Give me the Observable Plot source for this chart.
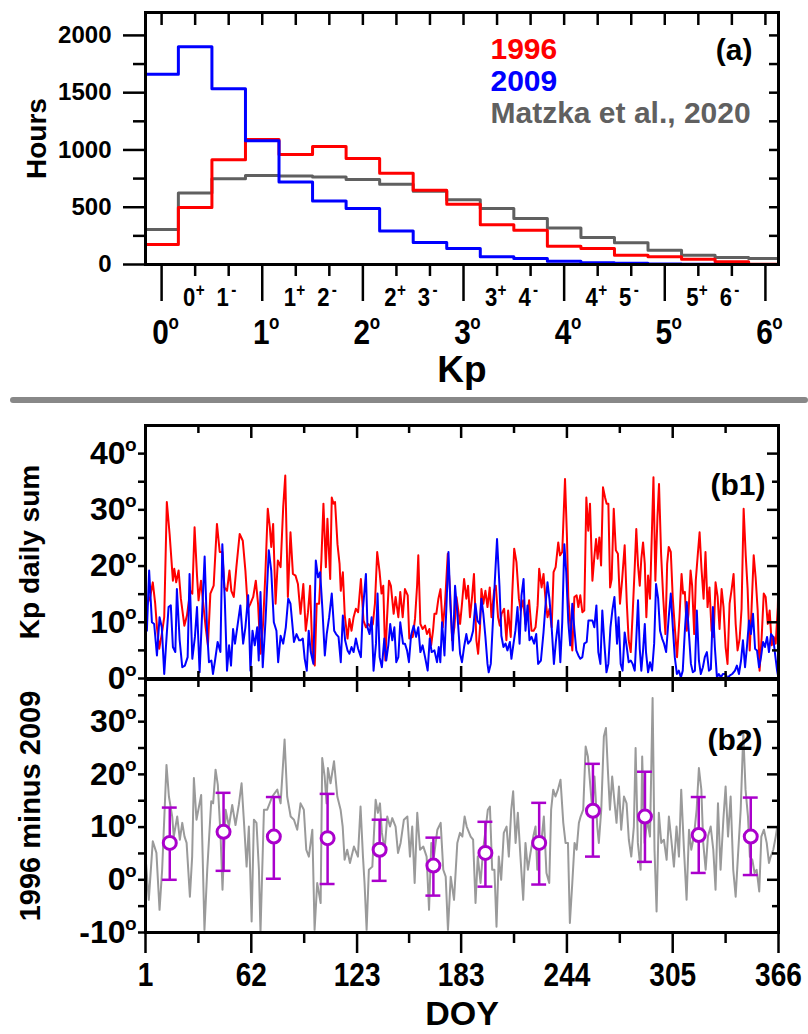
<!DOCTYPE html>
<html><head><meta charset="utf-8">
<script src="https://cdn.jsdelivr.net/npm/d3@7"></script>
<script src="https://cdn.jsdelivr.net/npm/@observablehq/plot@0.6"></script>
<style>
body{margin:0;background:#fff;}
#wrap{position:relative;width:808px;height:1034px;overflow:hidden;background:#fff;}
#wrap > svg{position:absolute;left:0;background:transparent;overflow:visible;}
#sep{position:absolute;left:10px;top:397px;width:798px;height:6px;background:#888;border-radius:3px;}
</style></head><body><div id="wrap"><div id="sep"></div></div>
<script>
// ---------- Panel (a) data ----------
const kpBinLabels = ["0o","0+","1-","1o","1+","2-","2o","2+","3-","3o","3+","4-","4o","4+","5-","5o","5+","6-","6o"];
const hours1996 = [174,497,915,1092,961,1031,926,796,648,526,348,299,160,139,81,67,46,23,3];
const hours2009 = [1660,1900,1535,1080,720,555,488,293,192,139,67,52,29,15,10,5,2,1,0];
const hoursMatzka = [305,624,749,778,772,764,743,700,640,566,488,401,319,235,189,125,81,61,52];
const legendNames = ["1996","2009","Matzka et al., 2020"];
const hoursMajorTicks = [0,500,1000,1500,2000];
const hoursMinorTicks = [250,750,1250,1750];

// ---------- Panel (b1) data ----------
const doy1996 = [1.0,2.2,3.7,5.2,6.6,7.6,8.9,10.4,11.8,13.3,14.9,16.8,17.6,18.7,20.1,21.4,23.4,24.9,26.8,28.0,29.3,30.7,31.6,33.0,34.1,35.7,37.0,38.4,40.3,42.2,43.8,45.3,46.5,48.0,49.4,50.5,51.9,53.4,55.3,57.1,58.6,60.0,61.5,63.1,64.6,65.9,67.3,68.8,70.2,71.5,72.7,73.5,74.6,76.0,77.3,78.9,80.4,81.6,83.1,84.6,86.0,87.5,88.9,90.4,92.0,93.4,94.7,95.9,97.2,98.6,99.7,101.1,102.4,103.6,105.0,105.9,107.5,108.4,109.4,110.3,111.7,112.9,113.6,114.8,115.9,117.5,118.6,119.8,121.0,122.3,123.6,125.2,126.7,128.1,129.4,131.0,132.1,133.3,134.6,136.0,137.1,138.1,139.3,140.2,141.4,142.5,144.1,145.2,146.8,147.9,149.3,150.6,152.2,153.1,155.1,156.4,157.6,158.3,159.5,160.8,162.2,163.3,164.7,165.7,166.8,167.6,168.7,169.9,171.1,172.4,173.7,175.3,176.6,177.8,179.1,180.3,182.4,183.5,184.7,186.0,187.0,188.1,189.3,190.4,191.8,192.8,193.9,194.7,195.8,197.0,198.2,199.5,200.5,202.0,203.0,204.3,205.3,206.3,207.8,209.1,210.1,211.6,212.4,213.6,214.9,216.3,217.4,218.8,220.1,221.3,222.2,223.6,224.8,225.9,227.1,228.0,229.4,230.5,231.7,232.8,234.0,235.2,236.3,237.5,239.0,240.0,241.3,242.9,244.0,244.8,245.8,247.1,248.3,249.6,250.6,251.7,252.9,254.0,255.2,256.3,257.3,258.7,259.8,260.8,261.7,262.7,263.7,264.8,266.0,266.9,267.9,268.9,269.8,271.0,272.2,273.4,274.6,275.8,277.3,278.5,279.6,280.8,281.9,283.1,284.0,285.0,286.0,286.9,287.9,288.9,289.8,290.8,291.9,292.7,293.9,295.0,296.2,297.1,298.3,299.5,300.8,301.8,302.7,303.9,305.0,306.2,307.5,308.9,310.1,311.0,312.0,313.1,314.1,315.3,316.2,317.4,318.3,319.5,320.5,321.6,322.8,323.9,325.1,326.2,327.4,328.6,329.7,330.9,332.0,333.2,334.3,335.5,336.6,337.8,339.0,340.1,341.3,342.4,343.6,344.7,345.9,347.1,348.2,349.4,350.5,351.7,352.8,354.0,355.1,356.3,357.5,358.6,359.8,360.9,362.1,363.2,364.4,365.6,366.0];
const kp1996 = [12.1,13.3,14.5,17.1,13.3,9.1,5.3,7.9,10.9,31.4,25.7,17.4,19.5,17.1,19.2,14.2,9.4,11.2,15.6,15.1,26.9,18.3,13.9,17.4,13.9,9.1,5.9,15.1,16.5,27.5,22.5,22.5,16.2,15.6,19.2,15.6,14.5,19.8,25.7,24.5,19.2,12.4,13.3,14.5,17.4,13.3,4.4,9.7,19.2,30.2,26.9,23.4,27.5,13.3,21.0,19.8,30.5,36.1,14.5,26.0,18.6,18.3,16.8,11.5,16.8,8.5,11.8,16.5,5.0,2.3,13.3,13.3,21.0,31.1,19.8,28.4,17.7,32.2,31.1,31.4,23.9,20.4,15.6,18.9,11.2,7.1,10.6,8.5,10.9,12.4,11.8,17.7,10.3,9.1,9.7,9.1,9.7,13.3,22.5,18.9,15.1,16.5,3.2,10.3,17.4,16.5,11.5,14.5,10.9,15.4,10.9,15.9,14.8,7.1,7.4,10.6,16.5,21.9,9.7,8.8,9.4,7.9,8.8,5.9,8.5,11.5,11.5,14.2,15.9,9.1,13.3,22.2,15.6,6.8,9.1,14.5,9.7,13.3,17.7,14.2,16.5,10.9,14.5,18.6,6.8,4.4,9.1,15.9,13.3,15.6,12.7,16.2,10.9,15.6,16.5,10.9,9.4,11.5,12.4,6.8,12.1,7.4,14.5,23.1,20.7,14.2,12.1,13.9,9.7,11.5,13.9,8.5,8.5,9.1,13.0,19.5,16.2,18.6,13.9,10.9,12.4,9.1,18.9,19.8,24.2,21.9,22.5,35.5,25.4,14.5,10.3,5.0,14.5,14.8,12.7,14.8,11.8,12.1,32.2,26.3,31.1,17.4,21.6,24.8,21.3,25.1,20.1,34.0,32.2,31.1,31.1,16.2,17.7,30.2,22.8,22.2,13.3,17.4,23.7,13.6,6.8,4.7,11.5,19.8,26.6,20.1,16.5,21.3,24.2,20.4,10.9,18.3,14.2,22.8,35.8,17.4,28.7,34.6,22.2,14.5,7.9,20.4,23.4,22.5,14.5,9.1,3.8,10.9,18.6,15.1,15.4,8.5,11.5,19.2,16.5,7.9,17.4,22.2,26.0,19.5,14.2,22.5,12.7,16.2,8.5,7.4,17.1,14.5,8.8,15.9,12.7,5.6,2.6,13.3,15.9,18.6,9.7,5.0,7.1,12.4,30.2,21.9,15.9,5.0,12.7,21.9,18.0,12.1,1.4,7.4,15.1,14.5,9.7,12.1,5.9,7.4,6.2,12.7,18.0];
const doy2009 = [1.8,3.1,4.7,6.0,7.6,9.1,10.4,11.8,12.9,14.3,15.6,16.8,18.2,19.1,20.7,22.2,23.7,25.3,26.4,28.0,29.5,30.7,32.2,33.8,35.1,36.5,37.6,39.0,39.9,41.1,42.6,44.2,45.3,46.7,48.0,49.2,50.3,51.5,52.6,54.2,55.7,57.3,58.6,60.2,61.5,62.7,64.0,65.4,66.3,67.3,68.6,70.2,72.1,73.5,75.0,76.5,77.5,78.9,80.4,81.9,83.3,84.6,86.6,88.1,89.6,90.5,91.7,92.8,94.0,95.1,96.3,97.8,99.2,100.5,101.7,103.0,104.4,105.5,106.9,108.4,109.8,110.9,112.3,113.6,114.8,116.1,117.5,118.6,119.8,121.0,122.3,123.6,125.2,126.3,128.1,129.0,130.2,131.4,132.5,133.9,134.8,136.0,137.3,138.7,139.8,141.0,142.1,143.3,144.5,145.6,146.8,147.9,149.5,150.6,151.8,152.9,154.1,155.6,157.0,158.3,159.5,160.8,162.2,163.7,164.9,166.0,167.6,169.1,170.1,171.0,172.0,173.4,174.5,175.7,176.8,178.2,179.5,180.7,182.4,183.5,184.7,186.0,187.0,188.5,189.9,191.2,192.4,193.7,194.7,195.8,197.0,198.2,198.9,200.1,201.4,202.4,203.7,205.1,206.2,207.4,208.6,209.7,211.1,212.0,213.2,214.3,215.5,216.7,217.8,219.0,220.1,221.3,222.4,223.6,225.1,226.3,227.4,229.0,230.5,231.7,232.8,234.0,235.2,236.5,237.7,239.0,240.2,241.3,242.5,243.6,244.8,245.9,247.1,248.3,249.4,250.6,251.7,252.9,254.0,255.4,256.4,257.5,258.7,259.8,261.0,262.1,263.3,264.4,265.6,266.8,267.9,269.1,270.2,271.4,272.9,273.8,275.0,276.1,277.3,278.5,279.6,280.8,281.9,283.1,284.0,285.0,286.0,286.9,287.9,288.9,289.6,290.8,291.9,293.1,294.3,295.4,296.6,297.7,298.9,300.0,301.2,302.7,303.9,305.0,306.2,307.4,308.5,309.7,310.8,312.0,313.1,314.3,315.5,316.6,317.8,318.9,320.1,321.2,322.4,323.5,324.7,325.9,327.0,328.2,329.3,330.5,331.6,332.8,333.9,335.5,336.6,337.8,339.3,340.9,342.0,343.2,344.4,345.5,346.7,347.8,349.0,350.1,351.3,352.5,353.6,354.8,355.9,357.1,358.2,359.4,360.5,361.7,362.9,364.0,365.2,366.0];
const kp2009 = [8.5,19.2,10.0,9.7,4.1,10.9,9.1,0.8,6.2,12.7,13.0,5.6,4.7,15.9,6.8,2.0,2.3,3.8,18.6,3.5,7.4,12.7,1.1,12.7,21.7,8.5,2.9,3.2,0.8,3.2,6.5,4.7,23.9,14.2,1.4,5.9,2.3,8.8,6.2,9.7,13.0,6.2,9.1,14.8,1.4,8.5,5.9,9.1,3.2,15.4,2.0,10.3,22.8,19.2,10.0,8.5,2.9,7.6,6.2,9.1,14.2,13.3,6.5,7.9,6.8,6.8,7.1,3.5,1.4,8.5,4.7,2.6,21.0,18.0,18.9,12.4,4.1,7.9,10.9,15.1,8.5,7.9,7.4,2.9,11.2,6.8,5.0,4.4,5.6,4.7,7.1,5.3,3.8,12.1,18.6,9.1,7.9,10.9,1.4,6.2,15.1,3.8,2.0,7.1,3.2,5.9,9.7,6.8,9.1,2.9,3.8,10.0,6.2,6.2,5.0,2.9,7.6,9.4,7.4,9.1,4.7,5.9,3.8,1.4,7.1,4.7,5.0,2.9,5.6,2.9,10.0,4.1,12.7,22.5,13.3,5.0,16.5,12.1,4.4,2.9,5.6,7.9,6.2,6.8,8.5,13.3,10.3,9.7,14.2,11.5,7.4,2.6,1.1,2.6,10.6,17.1,24.8,16.5,7.6,5.6,6.2,5.0,6.5,3.5,6.2,8.5,12.7,6.2,14.8,17.7,8.5,13.0,6.8,7.4,6.2,7.9,2.6,3.2,8.2,13.3,17.1,13.9,9.1,2.6,6.8,10.3,2.9,10.0,23.9,18.9,10.0,5.9,13.3,8.8,5.0,4.1,3.5,3.8,6.2,6.5,10.3,10.3,10.3,9.1,13.0,4.7,2.6,12.1,6.2,1.1,2.6,9.1,12.1,14.5,6.2,10.9,2.6,1.4,8.2,5.6,2.9,3.2,2.6,1.4,7.1,13.9,5.3,1.4,5.0,9.7,4.7,1.1,2.9,1.4,6.2,16.8,14.2,8.5,7.1,6.2,4.7,10.9,15.1,9.4,3.8,0.8,1.4,0.2,1.4,8.5,13.6,8.2,2.6,1.1,1.4,12.1,3.2,0.8,2.0,3.8,4.7,1.4,1.7,12.7,5.6,0.2,0.8,0.2,0.8,0.8,0,0.5,0.8,1.4,2.3,0.8,3.2,6.8,2.0,5.6,10.3,7.9,11.5,5.3,5.0,2.0,3.8,6.5,5.6,7.4,4.7,7.9,7.4,4.4,1.4,0];

// ---------- Panel (b2) data ----------
const doyDiff = [1.0,2.9,5.2,7.3,9.1,10.6,13.1,14.5,16.4,17.3,19.3,20.8,22.2,23.5,24.7,26.6,27.9,28.9,30.4,33.1,35.0,36.6,38.9,40.0,41.4,42.7,44.3,45.4,47.2,49.1,51.0,52.9,54.8,56.4,57.7,59.3,60.6,62.2,63.5,65.0,66.4,67.3,69.3,71.2,74.1,77.0,78.9,81.2,82.7,84.7,86.6,88.5,90.4,92.3,93.7,95.2,97.2,98.5,100.0,102.0,102.9,104.3,105.4,106.2,107.7,109.7,111.6,113.5,114.7,115.8,117.3,118.9,121.2,123.5,125.0,126.4,127.3,128.5,129.8,131.8,133.7,135.0,136.2,137.3,138.9,140.4,142.0,143.3,145.2,146.6,148.1,150.0,152.0,153.5,154.8,156.2,157.7,159.3,161.2,163.1,164.5,165.8,167.3,169.3,171.2,172.7,174.1,175.4,177.0,178.9,180.8,182.3,183.7,185.0,186.2,188.5,189.9,191.3,192.6,194.2,195.7,197.1,198.4,199.6,200.9,202.2,203.4,204.7,206.1,207.6,209.2,210.5,211.9,213.0,214.4,215.7,217.2,218.8,220.1,221.5,223.0,224.6,225.9,226.9,227.8,229.2,230.7,232.2,233.8,234.9,236.1,237.4,238.8,240.3,241.9,243.2,244.6,245.7,247.1,248.4,249.6,250.9,251.9,253.4,254.8,256.1,257.2,258.6,259.9,261.5,262.4,263.8,265.3,266.5,267.6,268.8,270.1,271.5,272.6,274.0,275.3,276.9,278.4,279.7,281.1,282.6,283.6,284.9,286.5,287.4,288.8,290.3,291.9,293.4,294.5,295.7,297.0,298.4,299.9,301.5,302.8,304.2,305.7,307.2,308.6,309.9,311.5,313.0,314.4,315.7,317.2,318.8,320.1,321.5,322.6,324.0,325.3,326.9,328.4,329.7,331.1,332.6,334.2,335.5,336.9,338.4,339.9,341.3,342.6,344.2,345.7,347.0,348.4,349.5,350.9,352.2,353.4,354.9,356.1,357.6,359.2,360.5,361.5,363.0,364.4,365.3];
const kpDiff = [4.4,-3.8,7.3,5.1,-5.7,1.9,21.8,15.8,12.0,8.2,12.0,7.6,10.8,8.2,7.0,-3.2,4.4,19.3,11.4,16.1,-9.5,1.9,14.9,14.5,20.9,18.0,8.2,-1.9,13.3,10.1,14.2,10.4,14.2,18.3,11.4,2.5,10.1,-7.9,11.4,10.8,1.9,-10,13.3,13.3,15.8,17.1,14.5,26.6,15.8,12.0,11.4,9.5,14.5,13.3,5.7,4.4,9.5,-9.5,-0.6,-4.4,23.1,19.6,14.5,21.2,18.3,22.5,15.8,13.3,10.1,3.8,5.7,3.2,6.3,4.4,13.9,4.4,-0.6,-9.5,1.9,2.5,15.2,12.7,14.5,8.9,5.7,12.0,10.1,11.7,10.1,5.1,7.0,11.4,12.0,4.4,10.1,-0.6,12.7,5.7,6.3,4.4,-5.7,7.0,4.4,9.5,10.8,1.9,0.6,-9.5,0.6,-3.8,7.0,8.9,8.2,12.0,10.1,8.2,7.6,-4.4,4.4,-0.6,5.7,9.5,13.3,13.9,1.9,1.9,-8.9,4.4,0,8.9,10.1,4.4,13.3,16.8,7.0,12.7,4.4,-3.8,7.0,1.9,5.1,8.2,10.1,1.9,5.7,7.0,12.0,1.3,-0.6,13.3,17.1,15.8,17.1,19.0,10.8,7.0,7.0,-8.2,-0.6,7.0,5.7,10.8,12.0,13.3,25.3,23.4,19.0,13.3,19.6,10.1,7.0,13.3,27.2,28.8,20.9,13.3,19.6,14.5,10.8,17.7,9.5,15.8,14.5,7.6,4.4,10.1,25.0,7.0,1.9,23.4,7.0,11.4,8.2,34.5,5.7,-6.0,12.7,7.0,7.6,3.8,12.0,7.6,2.5,10.1,4.4,17.1,5.7,-3.8,9.5,5.7,8.2,13.3,21.2,17.1,7.0,1.9,8.2,10.1,5.7,-1.9,14.5,1.9,11.4,17.7,8.2,15.8,1.9,-3.2,4.4,13.3,27.8,17.1,12.0,4.4,3.8,1.3,1.9,-2.2,8.2,9.5,7.0,3.2,4.4,5.7,8.2,10.1];
const monthDoy  = [15,46,75,106,136,167,197,228,259,289,320,350];
const monthMean = [7.0,9.1,8.2,7.9,5.7,2.7,5.1,7.0,13.1,12.0,8.5,8.2];
const monthLow  = [0.0,1.7,0.2,-0.8,-0.2,-3.0,-1.3,-0.9,4.4,3.4,1.3,0.9];
const monthHigh = [13.7,16.5,15.7,16.3,11.4,8.0,11.0,14.6,22.0,20.5,15.7,15.6];

const doyMajorTicks = [1,62,123,183,244,305,366];
const doyMinorTicks = [31.5,92.5,153,213.5,274.5,335.5];
const b1Major = [0,10,20,30,40], b1Minor = [5,15,25,35];
const b2Major = [-10,0,10,20,30], b2Minor = [-5,5,15,25,35];

// ---------- styles ----------
const SANS = "'Liberation Sans', Arial, sans-serif";
const COND = "Liberation Sans, Arial";   // condensed tick labels (scaled horizontally after render)
const RED = "#ff0000", BLUE = "#0000ff", DGRAY = "#606060", LGRAY = "#9a9a9a", PURPLE = "#aa00cc";
const AX = 2.5;
const wrap = document.getElementById("wrap");

function condense(svg, k){
  svg.querySelectorAll('g[font-family="' + COND + '"] text').forEach(t=>{
    const tr = t.getAttribute("transform") || "";
    t.setAttribute("transform", tr + " scale(" + k + ",1)");
  });
}
function stepPoints(vals){
  const pts = vals.map((v,i)=>({k:i/3-1/6, h:v}));
  pts.push({k:(vals.length-1)/3+1/6, h:vals[vals.length-1]});
  return pts;
}
const noText = ()=>"";
const binIdx = d3.range(kpBinLabels.length);
const minorIdx = binIdx.filter(i=>i%3!==0);
const majorIdx = binIdx.filter(i=>i%3===0);
const B = {fontWeight:"bold", fill:"black"};

// ---------- Panel (a) ----------
const plotA = Plot.plot({
  width:808, height:395,
  marginLeft:145, marginRight:30, marginTop:12, marginBottom:131,
  x:{domain:[-0.16,6.13], axis:null},
  y:{domain:[0,2200], axis:null},
  style:{fontFamily:SANS, background:"transparent", overflow:"visible"},
  marks:[
    Plot.line(stepPoints(hoursMatzka),{x:"k",y:"h",curve:"step-after",stroke:DGRAY,strokeWidth:3,clip:true}),
    Plot.line(stepPoints(hours1996),{x:"k",y:"h",curve:"step-after",stroke:RED,strokeWidth:3,clip:true}),
    Plot.line(stepPoints(hours2009),{x:"k",y:"h",curve:"step-after",stroke:BLUE,strokeWidth:3,clip:true}),
    Plot.frame({stroke:"black",strokeWidth:3}),
    Plot.axisY({anchor:"left",ticks:hoursMajorTicks,tickSize:22,tickPadding:12,fontSize:24,fontWeight:"bold",label:null,strokeWidth:AX,tickFormat:d=>String(d)}),
    Plot.axisY({anchor:"left",ticks:hoursMinorTicks,tickSize:12,tickFormat:noText,label:null,strokeWidth:AX}),
    Plot.axisY({anchor:"right",ticks:hoursMajorTicks.concat(hoursMinorTicks),tickSize:-10,tickFormat:noText,label:null,strokeWidth:AX}),
    Plot.axisX({anchor:"top",ticks:binIdx.map(i=>i/3),tickSize:-12,tickFormat:noText,label:null,strokeWidth:AX}),
    Plot.axisX({anchor:"bottom",ticks:majorIdx.map(i=>i/3),tickSize:37,tickFormat:noText,label:null,strokeWidth:AX}),
    Plot.axisX({anchor:"bottom",ticks:minorIdx.map(i=>i/3),tickSize:12,tickFormat:noText,label:null,strokeWidth:AX}),
    // minor bin labels (digit + superscript sign)
    Plot.text(minorIdx,{x:i=>i/3,text:i=>kpBinLabels[i][0],frameAnchor:"bottom",lineAnchor:"middle",dx:-6,dy:33,fontSize:26,fontFamily:COND,...B}),
    Plot.text(minorIdx,{x:i=>i/3,text:i=>kpBinLabels[i][1],frameAnchor:"bottom",lineAnchor:"middle",dx:5,dy:26,fontSize:18,fontFamily:COND,...B}),
    // major labels (digit + superscript o)
    Plot.text(majorIdx,{x:i=>i/3,text:i=>kpBinLabels[i][0],frameAnchor:"bottom",lineAnchor:"middle",dx:-1,dy:68,fontSize:35,fontFamily:COND,...B}),
    Plot.text(majorIdx,{x:i=>i/3,text:i=>kpBinLabels[i][1],frameAnchor:"bottom",lineAnchor:"middle",dx:12,dy:58,fontSize:20,fontFamily:COND,...B}),
    Plot.text(["Kp"],{frameAnchor:"bottom",lineAnchor:"middle",dy:106,fontSize:37,...B}),
    Plot.text(["Hours"],{frameAnchor:"left",textAnchor:"middle",lineAnchor:"middle",dx:-108,rotate:-90,fontSize:28,...B}),
    // legend
    Plot.text([legendNames[0]],{frameAnchor:"top-left",lineAnchor:"middle",dx:345,dy:37,textAnchor:"start",fontSize:30,fontWeight:"bold",fill:RED}),
    Plot.text([legendNames[1]],{frameAnchor:"top-left",lineAnchor:"middle",dx:345,dy:69,textAnchor:"start",fontSize:30,fontWeight:"bold",fill:BLUE}),
    Plot.text([legendNames[2]],{frameAnchor:"top-left",lineAnchor:"middle",dx:345,dy:101,textAnchor:"start",fontSize:30,fontWeight:"bold",fill:DGRAY}),
    Plot.text(["(a)"],{frameAnchor:"top-right",lineAnchor:"middle",dx:-26,dy:38,textAnchor:"end",fontSize:30,...B})
  ]
});
plotA.style.top = "0px";
condense(plotA, 0.85);
wrap.appendChild(plotA);

function yLabels(ticks){
  return [
    Plot.text(ticks,{y:d=>d,frameAnchor:"left",lineAnchor:"middle",text:d=>String(d),textAnchor:"end",dx:-20,fontSize:32,...B}),
    Plot.text(ticks,{y:d=>d,frameAnchor:"left",lineAnchor:"middle",text:()=>"o",textAnchor:"end",dx:-9,dy:-9,fontSize:19,...B})
  ];
}

// ---------- Panel (b1) ----------
const s1996 = d3.range(Math.min(doy1996.length,kp1996.length)).map(i=>({d:doy1996[i],v:kp1996[i]}));
const s2009 = d3.range(Math.min(doy2009.length,kp2009.length)).map(i=>({d:doy2009[i],v:kp2009[i]}));
const plotB1 = Plot.plot({
  width:808, height:265,
  marginLeft:145, marginRight:30, marginTop:10, marginBottom:2,
  x:{domain:[1,366],axis:null},
  y:{domain:[0,45],axis:null},
  style:{fontFamily:SANS, background:"transparent", overflow:"visible"},
  marks:[
    Plot.line(s1996,{x:"d",y:"v",stroke:RED,strokeWidth:2,clip:true}),
    Plot.line(s2009,{x:"d",y:"v",stroke:BLUE,strokeWidth:2,clip:true}),
    Plot.frame({stroke:"black",strokeWidth:3}),
    Plot.axisY({anchor:"left",ticks:b1Major.concat(b1Minor),tickSize:7,tickFormat:noText,label:null,strokeWidth:AX}),
    Plot.axisY({anchor:"right",ticks:b1Major,tickSize:-12,tickFormat:noText,label:null,strokeWidth:AX}),
    Plot.axisY({anchor:"right",ticks:b1Minor,tickSize:-7,tickFormat:noText,label:null,strokeWidth:AX}),
    Plot.axisX({anchor:"top",ticks:doyMajorTicks,tickSize:-12,tickFormat:noText,label:null,strokeWidth:AX}),
    Plot.axisX({anchor:"top",ticks:doyMinorTicks,tickSize:-7,tickFormat:noText,label:null,strokeWidth:AX}),
    Plot.axisX({anchor:"bottom",ticks:doyMajorTicks,tickSize:-12,tickFormat:noText,label:null,strokeWidth:AX}),
    Plot.axisX({anchor:"bottom",ticks:doyMinorTicks,tickSize:-7,tickFormat:noText,label:null,strokeWidth:AX}),
    ...yLabels(b1Major),
    Plot.text(["Kp daily sum"],{frameAnchor:"left",textAnchor:"middle",lineAnchor:"middle",dx:-115,rotate:-90,fontSize:28,...B}),
    Plot.text(["(b1)"],{frameAnchor:"top-right",lineAnchor:"middle",dx:-13,dy:60,textAnchor:"end",fontSize:30,...B})
  ]
});
plotB1.style.top = "415px";
wrap.appendChild(plotB1);

// ---------- Panel (b2) ----------
const sDiff = d3.range(Math.min(doyDiff.length,kpDiff.length)).map(i=>({d:doyDiff[i],v:kpDiff[i]}));
const mIdx = d3.range(monthDoy.length);
const plotB2 = Plot.plot({
  width:808, height:357,
  marginLeft:145, marginRight:30, marginTop:2, marginBottom:102,
  x:{domain:[1,366],axis:null},
  y:{domain:[-10,38],axis:null},
  style:{fontFamily:SANS, background:"transparent", overflow:"visible"},
  marks:[
    Plot.line(sDiff,{x:"d",y:"v",stroke:LGRAY,strokeWidth:2,clip:true}),
    Plot.ruleX(mIdx,{x:i=>monthDoy[i],y1:i=>monthLow[i],y2:i=>monthHigh[i],stroke:PURPLE,strokeWidth:2.5}),
    Plot.ruleY(mIdx,{y:i=>monthHigh[i],x1:i=>monthDoy[i]-4.3,x2:i=>monthDoy[i]+4.3,stroke:PURPLE,strokeWidth:2.5}),
    Plot.ruleY(mIdx,{y:i=>monthLow[i],x1:i=>monthDoy[i]-4.3,x2:i=>monthDoy[i]+4.3,stroke:PURPLE,strokeWidth:2.5}),
    Plot.dot(mIdx,{x:i=>monthDoy[i],y:i=>monthMean[i],r:6.5,stroke:PURPLE,strokeWidth:3,fill:"white"}),
    Plot.frame({stroke:"black",strokeWidth:3}),
    Plot.axisY({anchor:"left",ticks:b2Major.concat(b2Minor),tickSize:7,tickFormat:noText,label:null,strokeWidth:AX}),
    Plot.axisY({anchor:"right",ticks:b2Major,tickSize:-12,tickFormat:noText,label:null,strokeWidth:AX}),
    Plot.axisY({anchor:"right",ticks:b2Minor,tickSize:-7,tickFormat:noText,label:null,strokeWidth:AX}),
    Plot.axisX({anchor:"top",ticks:doyMajorTicks,tickSize:-12,tickFormat:noText,label:null,strokeWidth:AX}),
    Plot.axisX({anchor:"top",ticks:doyMinorTicks,tickSize:-7,tickFormat:noText,label:null,strokeWidth:AX}),
    Plot.axisX({anchor:"bottom",ticks:doyMajorTicks,tickSize:21,tickFormat:noText,label:null,strokeWidth:AX}),
    Plot.axisX({anchor:"bottom",ticks:doyMinorTicks,tickSize:11,tickFormat:noText,label:null,strokeWidth:AX}),
    Plot.text(doyMajorTicks,{x:d=>d,text:d=>String(d),frameAnchor:"bottom",lineAnchor:"middle",dy:43,fontSize:33,fontFamily:COND,...B}),
    Plot.text(["DOY"],{frameAnchor:"bottom",lineAnchor:"middle",dy:82,fontSize:34,...B}),
    ...yLabels(b2Major),
    Plot.text(["1996 minus 2009"],{frameAnchor:"left",textAnchor:"middle",lineAnchor:"middle",dx:-115,rotate:-90,fontSize:29,...B}),
    Plot.text(["(b2)"],{frameAnchor:"top-right",lineAnchor:"middle",dx:-16,dy:61,textAnchor:"end",fontSize:30,...B})
  ]
});
plotB2.style.top = "677px";
condense(plotB2, 0.85);
wrap.appendChild(plotB2);
</script></body></html>
